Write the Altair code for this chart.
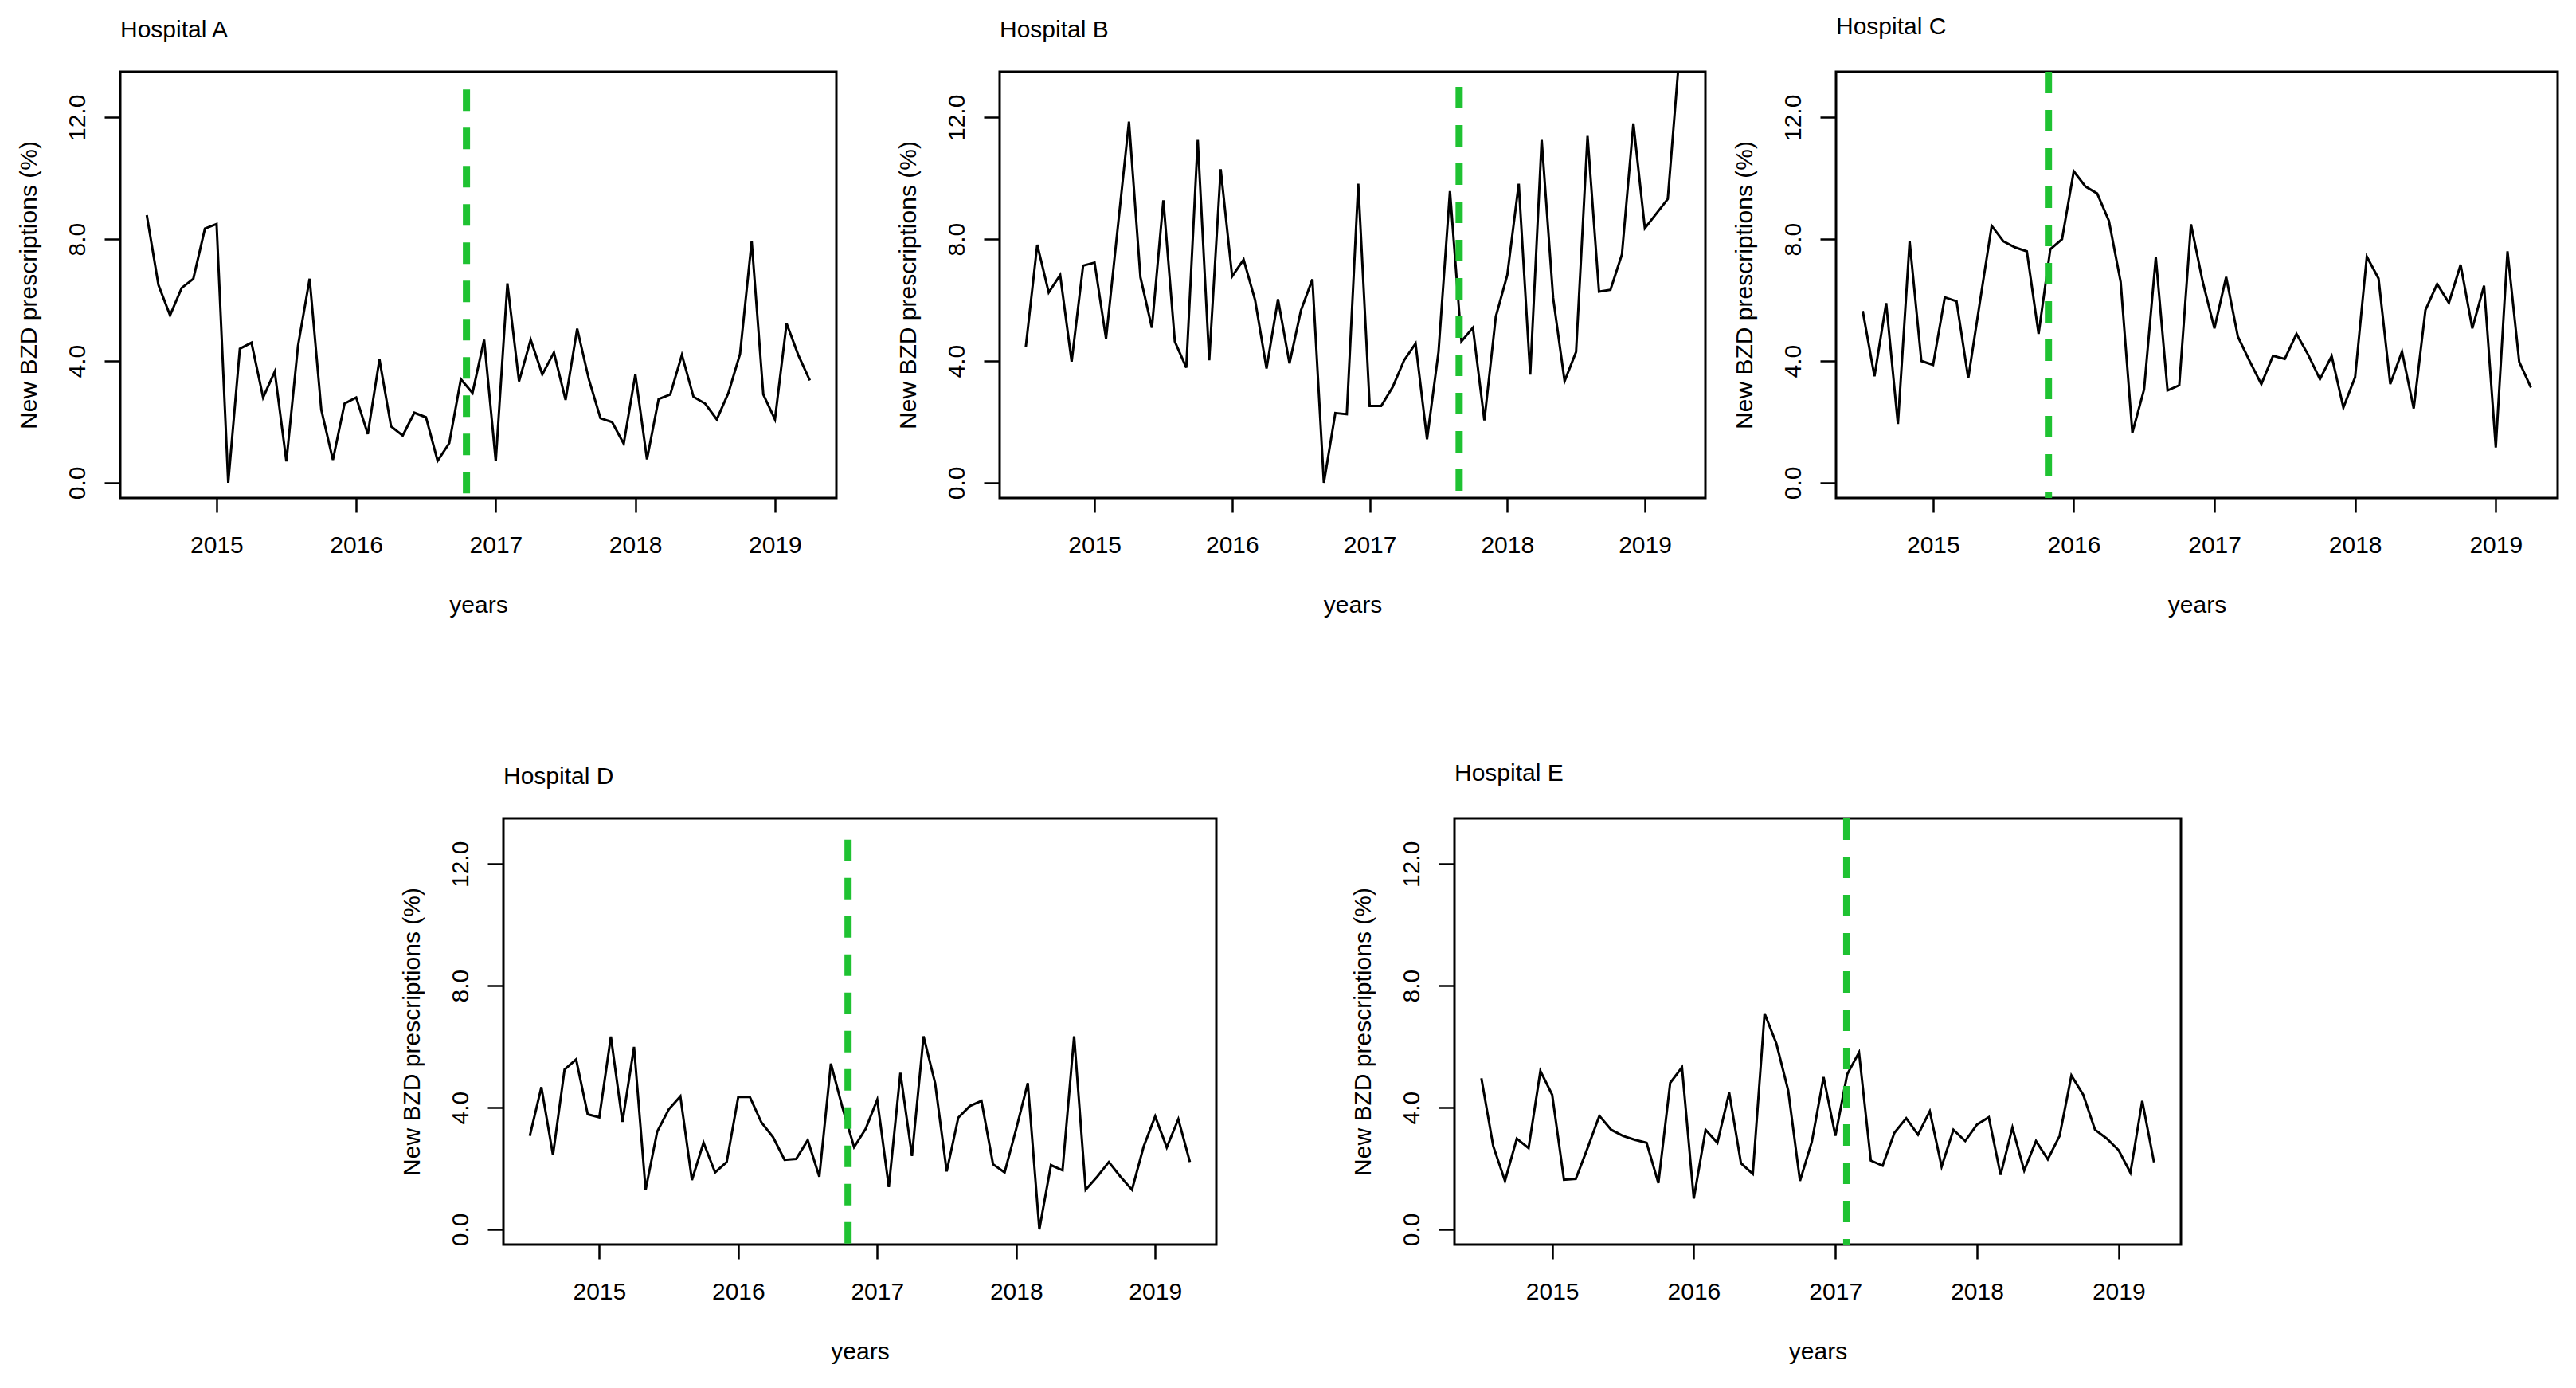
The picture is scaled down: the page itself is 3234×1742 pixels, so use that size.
import altair as alt
import pandas as pd

FONT = "Liberation Sans"
GREEN = "#1fc232"

hospitals = ["Hospital A", "Hospital B", "Hospital C", "Hospital D", "Hospital E"]
n_months = 58
start_year = 2014.5  # July 2014, monthly series
months = [start_year + i / 12 for i in range(n_months)]
year_ticks = [2015, 2016, 2017, 2018, 2019]
y_ticks = [0, 4, 8, 12]

hosp_a = [8.79, 6.5, 5.5, 6.4, 6.7, 8.35, 8.5, 0.0, 4.4, 4.6,
          2.8, 3.65, 0.7, 4.5, 6.7, 2.4, 0.75, 2.6, 2.8, 1.6,
          4.05, 1.85, 1.55, 2.3, 2.15, 0.72, 1.3, 3.4, 2.95, 4.7,
          0.71, 6.55, 3.33, 4.7, 3.56, 4.28, 2.72, 5.06, 3.4, 2.12,
          1.99, 1.28, 3.56, 0.77, 2.75, 2.9, 4.2, 2.82, 2.6, 2.08,
          2.95, 4.23, 7.93, 2.9, 2.08, 5.23, 4.2, 3.36]
hosp_b = [4.46, 7.82, 6.25, 6.82, 3.98, 7.13, 7.23, 4.73, 8.3, 11.86,
          6.75, 5.09, 9.28, 4.64, 3.78, 11.26, 4.02, 10.3, 6.78, 7.33,
          6.0, 3.75, 6.03, 3.92, 5.66, 6.68, 0.0, 2.29, 2.25, 9.82,
          2.52, 2.52, 3.14, 4.02, 4.57, 1.43, 4.3, 9.58, 4.64, 5.09,
          2.05, 5.46, 6.82, 9.82, 3.55, 11.26, 6.07, 3.34, 4.3, 11.39,
          6.28, 6.34, 7.5, 11.8, 8.36, 8.84, 9.32, 14.0]
hosp_c = [5.64, 3.5, 5.9, 1.93, 7.93, 4.0, 3.87, 6.09, 5.96, 3.43,
          5.95, 8.44, 7.93, 7.73, 7.6, 4.89, 7.67, 8.0, 10.23, 9.73,
          9.5, 8.6, 6.6, 1.64, 3.07, 7.4, 3.03, 3.2, 8.49, 6.6,
          5.07, 6.76, 4.8, 4.0, 3.24, 4.17, 4.07, 4.89, 4.2, 3.4,
          4.16, 2.47, 3.47, 7.43, 6.71, 3.24, 4.31, 2.44, 5.67, 6.53,
          5.91, 7.16, 5.07, 6.47, 1.16, 7.6, 3.97, 3.13]
hosp_d = [3.07, 4.67, 2.44, 5.25, 5.58, 3.78, 3.68, 6.33, 3.53, 5.99,
          1.3, 3.21, 3.94, 4.37, 1.62, 2.85, 1.87, 2.21, 4.35, 4.35,
          3.51, 3.03, 2.28, 2.31, 2.93, 1.73, 5.44, 4.0, 2.7, 3.3,
          4.26, 1.39, 5.14, 2.41, 6.34, 4.8, 1.9, 3.67, 4.05, 4.22,
          2.14, 1.87, 3.3, 4.8, 0.0, 2.11, 1.94, 6.34, 1.3, 1.73,
          2.21, 1.73, 1.3, 2.71, 3.71, 2.69, 3.62, 2.21]
hosp_e = [4.96, 2.74, 1.59, 2.98, 2.67, 5.2, 4.42, 1.63, 1.66, 2.67,
          3.73, 3.27, 3.07, 2.94, 2.84, 1.52, 4.81, 5.32, 1.01, 3.27,
          2.84, 4.49, 2.17, 1.82, 7.09, 6.1, 4.56, 1.59, 2.87, 5.0,
          3.07, 5.09, 5.81, 2.26, 2.09, 3.17, 3.65, 3.11, 3.88, 2.06,
          3.27, 2.9, 3.44, 3.68, 1.79, 3.34, 1.93, 2.9, 2.3, 3.07,
          5.05, 4.42, 3.27, 2.98, 2.6, 1.86, 4.22, 2.2]

series = [hosp_a, hosp_b, hosp_c, hosp_d, hosp_e]
intervention = [2016.79, 2017.65, 2015.82, 2016.79, 2017.08]
vline_top = [12.92, 13.0, 13.5, 12.8, 13.5]
vline_bottom = -0.5

x_domain = [2014.31, 2019.44]
y_domain = [-0.5, 13.5]


def panel(name, values, xline, ytop, width, height):
    df = pd.DataFrame({"t": months, "v": values})
    line = alt.Chart(df).mark_line(color="black", strokeWidth=3, clip=True).encode(
        x=alt.X("t:Q",
                scale=alt.Scale(domain=x_domain, nice=False, zero=False),
                axis=alt.Axis(values=year_ticks, format="d", title="years",
                              tickSize=18, labelPadding=26, titlePadding=45,
                              labelFlush=False, labelOverlap=False)),
        y=alt.Y("v:Q",
                scale=alt.Scale(domain=y_domain, nice=False, zero=False),
                axis=alt.Axis(values=y_ticks, format=".1f",
                              title="New BZD prescriptions (%)",
                              labelAngle=270, labelAlign="center",
                              labelBaseline="alphabetic",
                              tickSize=20, labelPadding=25, titlePadding=31,
                              labelFlush=False, labelOverlap=False)),
    )
    rdf = pd.DataFrame({"x": [xline], "y": [ytop], "y2": [vline_bottom]})
    rule = alt.Chart(rdf).mark_rule(color=GREEN, strokeWidth=9,
                                    strokeDash=[27, 21]).encode(
        x=alt.X("x:Q"), y=alt.Y("y:Q"), y2="y2:Q")
    return alt.layer(line, rule).properties(
        width=width, height=height,
        title=alt.TitleParams(name, anchor="start", frame="group", fontSize=30,
                              font=FONT, fontWeight="normal", offset=13,
                              baseline="alphabetic", color="black"))


def spacer(w):
    return alt.Chart(pd.DataFrame({"a": [0]})).mark_point(opacity=0).encode(
        x=alt.X("a:Q", axis=None), y=alt.Y("a:Q", axis=None)
    ).properties(width=w, height=10,
                 view=alt.ViewBackground(strokeOpacity=0, strokeWidth=0))


widths = [899, 886, 906, 895, 912]
heights = [535, 535, 535, 535, 535]
panels = [panel(hospitals[i], series[i], intervention[i], vline_top[i],
                widths[i], heights[i]) for i in range(5)]

top_row = alt.hconcat(panels[0], spacer(205), panels[1], spacer(164), panels[2],
                      spacing=0, bounds="flush")
bottom_row = alt.hconcat(spacer(481), panels[3], spacer(299), panels[4],
                         spacing=0, bounds="flush")

chart = alt.vconcat(top_row, bottom_row, spacing=178).properties(
    padding={"left": 11, "top": 9, "right": 5, "bottom": 5},
    background="white",
).configure_view(
    stroke="black", strokeWidth=3
).configure_axis(
    labelFont=FONT, titleFont=FONT, labelFontSize=30, titleFontSize=30,
    titleFontWeight="normal", labelColor="black", titleColor="black",
    tickColor="black", tickWidth=2.5, domain=False, grid=False,
).configure_title(
    font=FONT, fontSize=30, fontWeight="normal", color="black"
)

chart.save("out.html", embed_options={"renderer": "svg", "actions": False})
